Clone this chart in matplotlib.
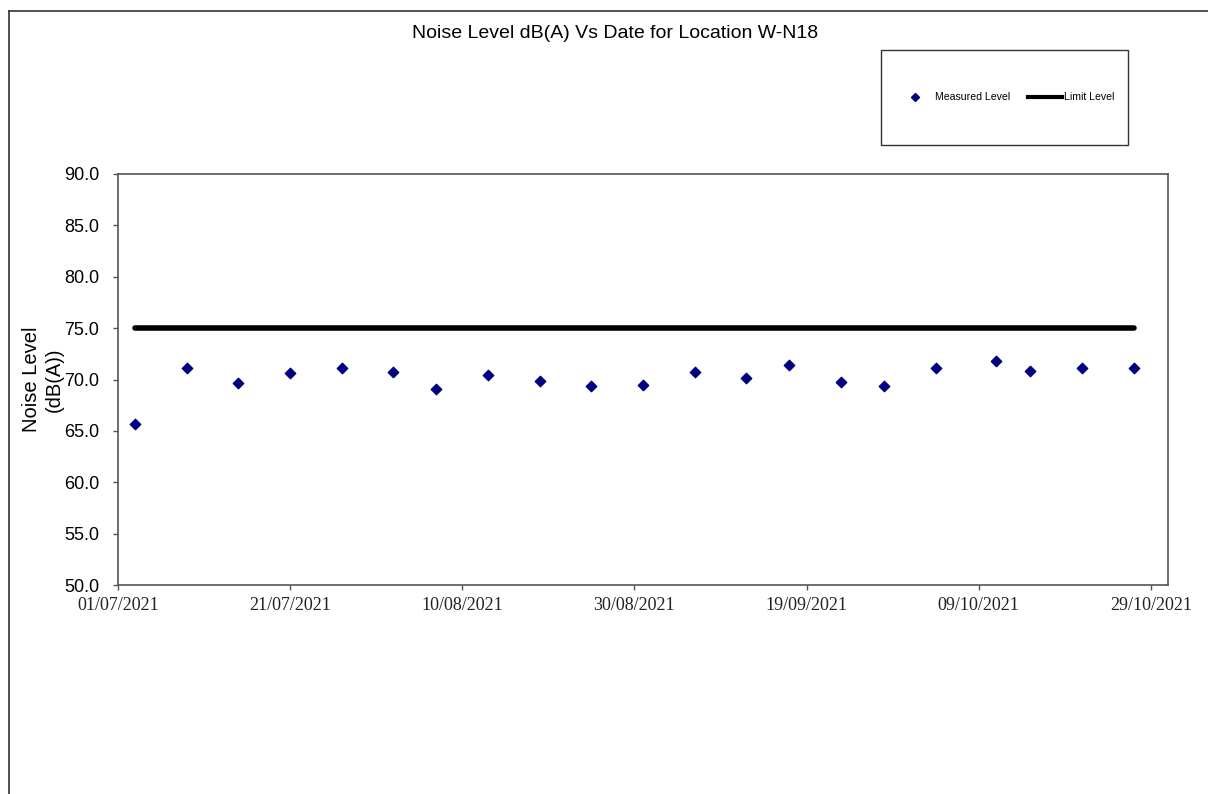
import numpy as np
import pandas as pd
import matplotlib
matplotlib.use("Agg")
import matplotlib.pyplot as plt
import matplotlib.dates as mdates
from matplotlib.lines import Line2D

# measurement dates and levels for W-N18
dates = ["2021-07-03", "2021-07-09", "2021-07-15", "2021-07-21", "2021-07-27",
         "2021-08-02", "2021-08-07", "2021-08-13", "2021-08-19", "2021-08-25",
         "2021-08-31", "2021-09-06", "2021-09-12", "2021-09-17", "2021-09-23",
         "2021-09-28", "2021-10-04", "2021-10-11", "2021-10-15", "2021-10-21",
         "2021-10-27"]
measured = [65.7, 71.1, 69.7, 70.6, 71.1,
            70.7, 69.1, 70.4, 69.9, 69.4,
            69.5, 70.7, 70.1, 71.4, 69.8,
            69.4, 71.1, 71.8, 70.8, 71.1,
            71.1]
limit = 75.0

x_start = "2021-07-01"
x_end = "2021-10-31"
y_ticks = [50, 55, 60, 65, 70, 75, 80, 85, 90]

d = pd.to_datetime(dates)

fig = plt.figure(figsize=(12.08, 7.94), dpi=100)
W, H = 1208, 794
ax = fig.add_axes([118 / W, 1 - 585 / H, (1168 - 118) / W, (585 - 174) / H])

ax.plot([d[0], d[-1]], [limit, limit], color="black", lw=4, solid_capstyle="round",
        zorder=2)
ax.scatter(d, measured, marker="D", s=28, color="#000080", zorder=3)

ax.set_xlim(pd.Timestamp(x_start), pd.Timestamp(x_end))
ax.set_ylim(50, 90)
ax.set_yticks(y_ticks)
ax.set_yticklabels([f"{v:.1f}" for v in y_ticks], fontsize=13, family="Liberation Sans")
xt = pd.date_range(x_start, x_end, freq="20D")
ax.set_xticks(xt)
ax.set_xticklabels([t.strftime("%d/%m/%Y") for t in xt], fontsize=13,
                   family="Liberation Serif", color="#222222")
ax.tick_params(axis="both", direction="out", length=3.5, width=1, color="#555555")
ax.tick_params(axis="x", pad=5.5)
ax.tick_params(axis="y", pad=10)
for s in ax.spines.values():
    s.set_color("#555555")
    s.set_linewidth(1.2)

ax.set_ylabel("Noise Level\n(dB(A))", fontsize=14.5, family="Liberation Sans",
              linespacing=1.2, labelpad=0.5)

fig.text(615 / W, 1 - 34 / H, "Noise Level dB(A) Vs Date for Location W-N18",
         ha="center", va="center", fontsize=14, family="Liberation Sans")

# legend box
box = plt.Rectangle((881 / W, 1 - 145 / H), (1128 - 881) / W, (145 - 50) / H,
                    transform=fig.transFigure, fill=False, ec="#333333", lw=1)
fig.add_artist(box)
ly = 1 - 97 / H
fig.add_artist(Line2D([915 / W], [ly], marker="D", ms=4, color="#000080",
                      transform=fig.transFigure))
fig.text(935 / W, ly, "Measured Level", fontsize=7.6, va="center",
         family="Liberation Sans")
fig.add_artist(Line2D([1028 / W, 1062 / W], [ly, ly], lw=3, color="black",
                      transform=fig.transFigure))
fig.text(1064 / W, ly, "Limit Level", fontsize=7.6, va="center",
         family="Liberation Sans")

# page frame (top and left edges)
fig.add_artist(Line2D([9 / W, 1], [1 - 11 / H, 1 - 11 / H], lw=1.2, color="#333333",
                      transform=fig.transFigure))
fig.add_artist(Line2D([9 / W, 9 / W], [0, 1 - 11 / H], lw=1.2, color="#333333",
                      transform=fig.transFigure))

fig.savefig("out.png", dpi=100)
